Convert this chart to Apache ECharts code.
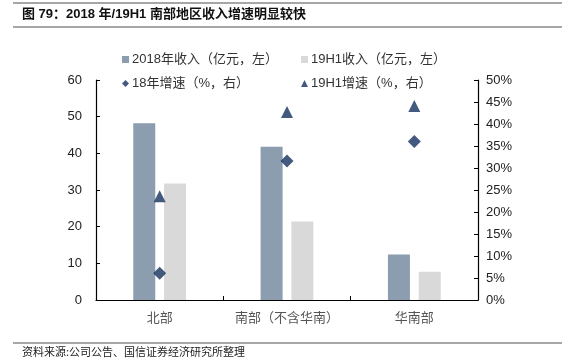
<!DOCTYPE html>
<html><head><meta charset="utf-8">
<script src="https://cdn.jsdelivr.net/npm/echarts@6/dist/echarts.min.js"></script>
<style>html,body{margin:0;padding:0;background:#fff}#c{width:576px;height:362px}</style>
</head><body><div id="c"></div>
<script>
const categories = ['北部', '南部（不含华南）', '华南部'];
const rev2018 = [48.2, 41.8, 12.4];
const rev19H1 = [31.8, 21.4, 7.7];
const growth18 = [6.1, 31.6, 36.0];
const growth19H1 = [23.6, 42.7, 44.1];
const leftTicks = {min: 0, max: 60, interval: 10};
const rightTicks = {min: 0, max: 50, interval: 5};

const names = ['2018年收入（亿元，左）', '19H1收入（亿元，左）', '18年增速（%，右）', '19H1增速（%，右）'];
const cjk = '"Liberation Sans", "Noto Sans CJK SC", sans-serif';
const chart = echarts.init(document.getElementById('c'));
function lg(name, left, top, icon) {
  return {data: [{name: name, icon: icon}], left: left, top: top, itemWidth: 7, itemHeight: 7, itemGap: 0,
    textStyle: {fontSize: 13, color: '#333', fontFamily: cjk, padding: [0, 0, 0, -2]}, selectedMode: false};
}
chart.setOption({
  animation: false,
  graphic: [
    {type: 'line', shape: {x1: 13, y1: 3, x2: 562, y2: 3}, style: {stroke: '#888', lineWidth: 1.5}},
    {type: 'line', shape: {x1: 13, y1: 27, x2: 562, y2: 27}, style: {stroke: '#888', lineWidth: 1.5}},
    {type: 'line', shape: {x1: 13, y1: 343, x2: 562, y2: 343}, style: {stroke: '#888', lineWidth: 1.5}},
    {type: 'text', left: 22, top: 8, style: {text: '图 79：2018 年/19H1 南部地区收入增速明显较快', font: 'bold 13px "Liberation Sans", "Noto Sans CJK SC", sans-serif', fill: '#111'}},
    {type: 'text', left: 22, top: 346, style: {text: '资料来源:公司公告、国信证券经济研究所整理', font: '11px "Noto Sans CJK SC", sans-serif', fill: '#222'}}
  ],
  legend: [
    lg(names[0], 117, 48, 'rect'),
    lg(names[1], 296, 48, 'rect'),
    lg(names[2], 117, 72, 'diamond'),
    lg(names[3], 296, 72, 'triangle')
  ],
  grid: {left: 96, right: 98, top: 80, bottom: 62},
  xAxis: {
    type: 'category', data: categories,
    axisLine: {lineStyle: {color: '#000', width: 1.2}},
    axisTick: {show: true, inside: true, length: 4, alignWithLabel: false, lineStyle: {color: '#000'}},
    axisLabel: {fontSize: 13, color: '#555', margin: 12, interval: 0, fontFamily: cjk}
  },
  yAxis: [
    {type: 'value', min: leftTicks.min, max: leftTicks.max, interval: leftTicks.interval, position: 'left',
      axisLine: {show: true, lineStyle: {color: '#000', width: 1.2}},
      axisTick: {show: true, inside: true, length: 4, lineStyle: {color: '#000'}},
      splitLine: {show: false},
      axisLabel: {fontSize: 13, color: '#222', margin: 14, fontFamily: '"Liberation Sans", sans-serif'}},
    {type: 'value', min: rightTicks.min, max: rightTicks.max, interval: rightTicks.interval, position: 'right',
      axisLine: {show: true, lineStyle: {color: '#000', width: 1.2}},
      axisTick: {show: true, inside: true, length: 4, lineStyle: {color: '#000'}},
      splitLine: {show: false},
      axisLabel: {fontSize: 13, color: '#222', margin: 8, formatter: '{value}%', fontFamily: '"Liberation Sans", sans-serif'}}
  ],
  series: [
    {name: names[0], type: 'bar', data: rev2018, barWidth: 22, barGap: '40%', itemStyle: {color: '#8C9DB0'}},
    {name: names[1], type: 'bar', data: rev19H1, barWidth: 22, itemStyle: {color: '#D9D9D9'}},
    {name: names[2], type: 'scatter', yAxisIndex: 1, data: growth18, symbol: 'diamond', symbolSize: 13, itemStyle: {color: '#142F5C'}},
    {name: names[3], type: 'scatter', yAxisIndex: 1, data: growth19H1, symbol: 'triangle', symbolSize: 12, itemStyle: {color: '#142F5C'}}
  ]
});
</script></body></html>
